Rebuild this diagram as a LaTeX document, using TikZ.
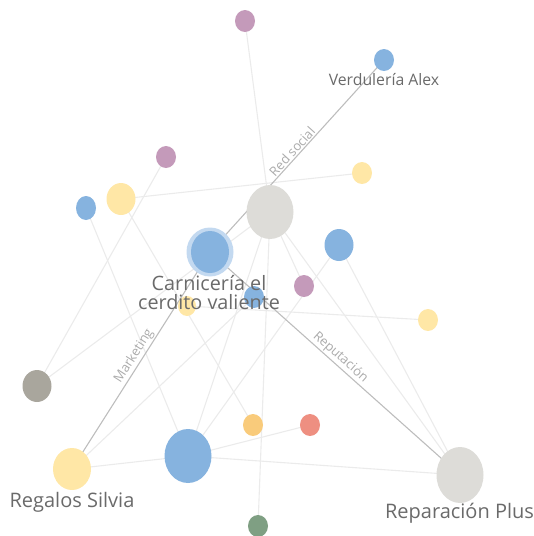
\documentclass[tikz,border=0pt]{standalone}
\usepackage{fontspec}
\setmainfont{Open Sans}
\usetikzlibrary{positioning,shapes.geometric}
\definecolor{nblue}{HTML}{86B3DF}
\definecolor{nhalo}{HTML}{C3D9F0}
\definecolor{nyellow}{HTML}{FFE7A6}
\definecolor{npurple}{HTML}{C49ABA}
\definecolor{ngray}{HTML}{DDDCD8}
\definecolor{ndark}{HTML}{A9A69D}
\definecolor{norange}{HTML}{F9CB7B}
\definecolor{nred}{HTML}{EE8F81}
\definecolor{ngreen}{HTML}{7F9F83}
\definecolor{edgelight}{HTML}{EBEBEB}
\definecolor{edgedark}{HTML}{BDBDBD}
\definecolor{txtgray}{HTML}{6A6A6A}
\definecolor{tagtext}{HTML}{ABABAB}
\tikzset{
  dot/.style  = {ellipse, fill=#1, inner sep=0pt},
  sm/.style   = {minimum width=20pt, minimum height=22pt},
  md/.style   = {minimum width=29pt, minimum height=32pt},
  lg/.style   = {minimum width=38pt, minimum height=42pt},
  xl/.style   = {minimum width=47pt, minimum height=54pt},
  link/.style = {edgelight, line width=1.1pt},
  tie/.style  = {edgedark, line width=1.1pt},
  tag/.style  = {tagtext, font=\fontsize{13}{15}\selectfont, sloped, above,
                 inner sep=1.2pt},
  lbl/.style  = {txtgray, align=center, inner sep=0pt},
}

\begin{document}
\begin{tikzpicture}[x=1pt,y=-1pt]
\useasboundingbox (0,0) rectangle (534,536);
% node centres
\coordinate (ptop)   at (245,21);
\coordinate (verdu)  at (384,60);
\coordinate (pur2)   at (166,157);
\coordinate (yrt)    at (362,173);
\coordinate (yA)     at (121,199);
\coordinate (bsm)    at (86,208);
\coordinate (gbig)   at (270,212);
\coordinate (carn)   at (210,252);
\coordinate (bright) at (339,245);
\coordinate (pur3)   at (304,286);
\coordinate (bctr)   at (254,297);
\coordinate (yctr)   at (187,306);
\coordinate (yrm)    at (428,320);
\coordinate (gdark)  at (37,386);
\coordinate (orng)   at (253,425);
\coordinate (rednd)  at (310,425);
\coordinate (bbig)   at (188,456);
\coordinate (regal)  at (72,469);
\coordinate (repar)  at (460,475);
\coordinate (grn)    at (258,526);
% plain links
\draw[link] (ptop) -- (gbig);
\draw[link] (yA) -- (yrt);
\draw[link] (pur2) -- (gdark);
\draw[link] (bsm) -- (bbig);
\draw[link] (yA) -- (orng);
\draw[link] (gdark) -- (gbig);
\draw[link] (regal) -- (bbig);
\draw[link] (regal) -- (bctr);
\draw[link] (bbig) -- (rednd);
\draw[link] (bbig) -- (repar);
\draw[link] (bbig) -- (gbig);
\draw[link] (bbig) -- (bright);
\draw[link] (gbig) -- (grn);
\draw[link] (gbig) -- (repar);
\draw[link] (gbig) -- (pur3);
\draw[link] (bright) -- (repar);
\draw[link] (yctr) -- (yrm);
% named ties
\draw[tie] (carn) -- node[tag] {Red social} (verdu);
\draw[tie] (regal) -- node[tag] {Marketing} (carn);
\draw[tie] (carn) -- node[tag] {Reputación} (repar);
% nodes
\node[dot=npurple, sm] (ptopn) at (ptop) {};
\node[dot=nblue, sm] (verdun) at (verdu) {};
\node[dot=npurple, sm] (pur2n) at (pur2) {};
\node[dot=nyellow, sm] (yrtn) at (yrt) {};
\node[dot=nyellow, md] (yAn) at (yA) {};
\node[dot=nblue, sm, minimum height=24pt] (bsmn) at (bsm) {};
\node[dot=ngray, xl] (gbign) at (gbig) {};
\node[dot=nhalo, minimum width=47pt, minimum height=49pt] (carnhalo) at (carn) {};
\node[dot=nblue, lg] (carnn) at (carn) {};
\node[dot=nblue, md] (brightn) at (bright) {};
\node[dot=npurple, sm] (pur3n) at (pur3) {};
\node[dot=nblue, sm] (bctrn) at (bctr) {};
\node[dot=nyellow, minimum width=18pt, minimum height=20pt] (yctrn) at (yctr) {};
\node[dot=nyellow, sm] (yrmn) at (yrm) {};
\node[dot=ndark, md] (gdarkn) at (gdark) {};
\node[dot=norange, sm] (orngn) at (orng) {};
\node[dot=nred, sm] (rednn) at (rednd) {};
\node[dot=nblue, xl] (bbign) at (bbig) {};
\node[dot=nyellow, lg] (regaln) at (regal) {};
\node[dot=ngray, xl, minimum height=56pt] (reparn) at (repar) {};
\node[dot=ngreen, sm] (grnn) at (grn) {};
% names (base = last line)
\node[lbl, anchor=base, font=\fontsize{15.8}{18}\selectfont] (verdutxt) at (384,85) {Verdulería Alex};
\node[lbl, anchor=base, font=\fontsize{19.8}{18.4}\selectfont] (carntxt) at (209,309.3) {Carnicería el\\cerdito valiente};
\node[lbl, anchor=base, font=\fontsize{20}{22}\selectfont] (regaltxt) at (72,507.5) {Regalos Silvia};
\node[lbl, anchor=base, font=\fontsize{20}{22}\selectfont] (repartxt) at (459.5,518.3) {Reparación Plus};
\end{tikzpicture}
\end{document}
